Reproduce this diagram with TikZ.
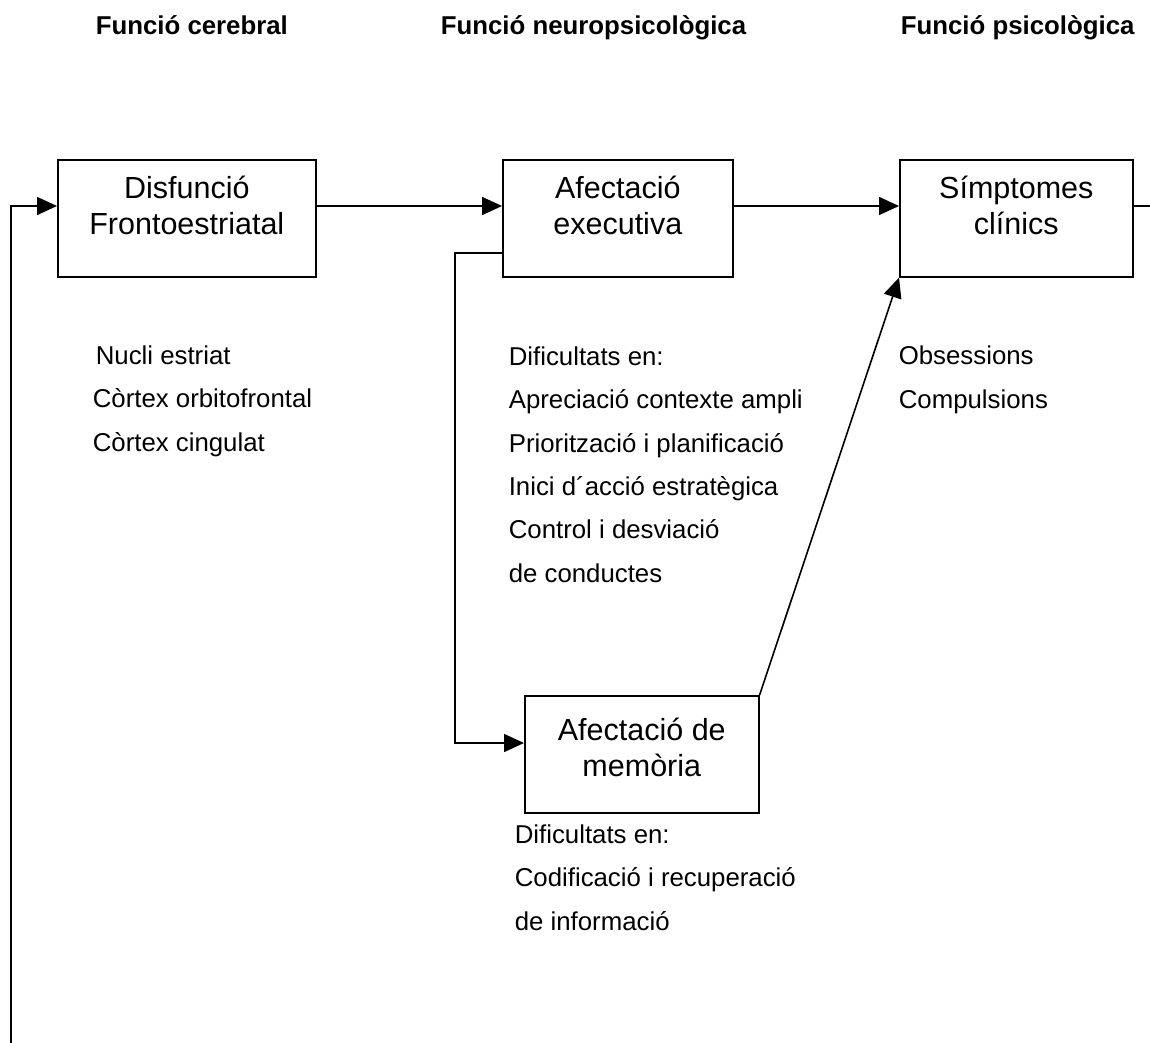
\documentclass[tikz,border=0pt]{standalone}
\usepackage{fontspec}
\setmainfont{Liberation Sans}
\usetikzlibrary{arrows.meta}
\begin{document}
\begin{tikzpicture}[x=1pt,y=-1pt,line width=1.6pt,
  box/.style={draw,rectangle,inner sep=0pt,anchor=north west,minimum height=117pt},
  boxtext/.style={font=\fontsize{30.5}{36}\selectfont,align=center,inner sep=0pt,anchor=base},
  small/.style={font=\fontsize{25.8}{43.3}\selectfont,align=left,inner sep=0pt,anchor=base west},
  head/.style={font=\bfseries\fontsize{25.8}{30}\selectfont,inner sep=0pt,anchor=base west},
  arr/.style={-{Triangle[length=20pt,width=18pt]}}]
\useasboundingbox (0,0) rectangle (1150,1043);

% headers
\node[head] (h1) at (95,35) {Funció cerebral};
\node[head] (h2) at (440,35) {Funció neuropsicològica};
\node[head] (h3) at (900,35) {Funció psicològica};

% boxes
\node[box,minimum width=258pt] (b1) at (57,159) {};
\node[box,minimum width=230pt] (b2) at (502,159) {};
\node[box,minimum width=233pt] (b3) at (899,159) {};
\node[box,minimum width=234pt] (b4) at (524,695) {};

% box texts (anchor = baseline of the last line)
\node[boxtext] (t1) at ([yshift=-75pt]b1.north) {Disfunció\\Frontoestriatal};
\node[boxtext] (t2) at ([yshift=-75pt]b2.north) {Afectació\\executiva};
\node[boxtext] (t3) at ([yshift=-75pt]b3.north) {Símptomes\\clínics};
\node[boxtext] (t4) at ([yshift=-81pt]b4.north) {Afectació de\\memòria};

% lists (anchor = baseline of the last line)
\node[small] (l1) at (92,451) {\hspace*{3pt}Nucli estriat\\Còrtex orbitofrontal\\Còrtex cingulat};
\node[small] (l2) at (508,582) {Dificultats en:\\Apreciació contexte ampli\\Priorització i planificació\\Inici d´acció estratègica\\Control i desviació\\de conductes};
\node[small] (l3) at (898,408) {Obsessions\\Compulsions};
\node[small] (l4) at (514,930) {Dificultats en:\\Codificació i recuperació\\de informació};

% connectors
\coordinate (ay) at (0,206);
\coordinate (by) at (0,253);
\coordinate (my) at (0,743);
\coordinate (mx) at (455,0);
\coordinate (fb) at (11,1043);
\coordinate (re) at (1150,206);

\draw[arr] (fb) |- (b1.west |- ay);
\draw[arr] (b1.east |- ay) -- (b2.west |- ay);
\draw[arr] (b2.east |- ay) -- (b3.west |- ay);
\draw (b3.east |- ay) -- (re);
\draw[arr] (b2.west |- by) -| (mx |- my) -- (b4.west |- my);
\draw[arr] (b4.north east) -- (b3.south west);
\end{tikzpicture}
\end{document}
